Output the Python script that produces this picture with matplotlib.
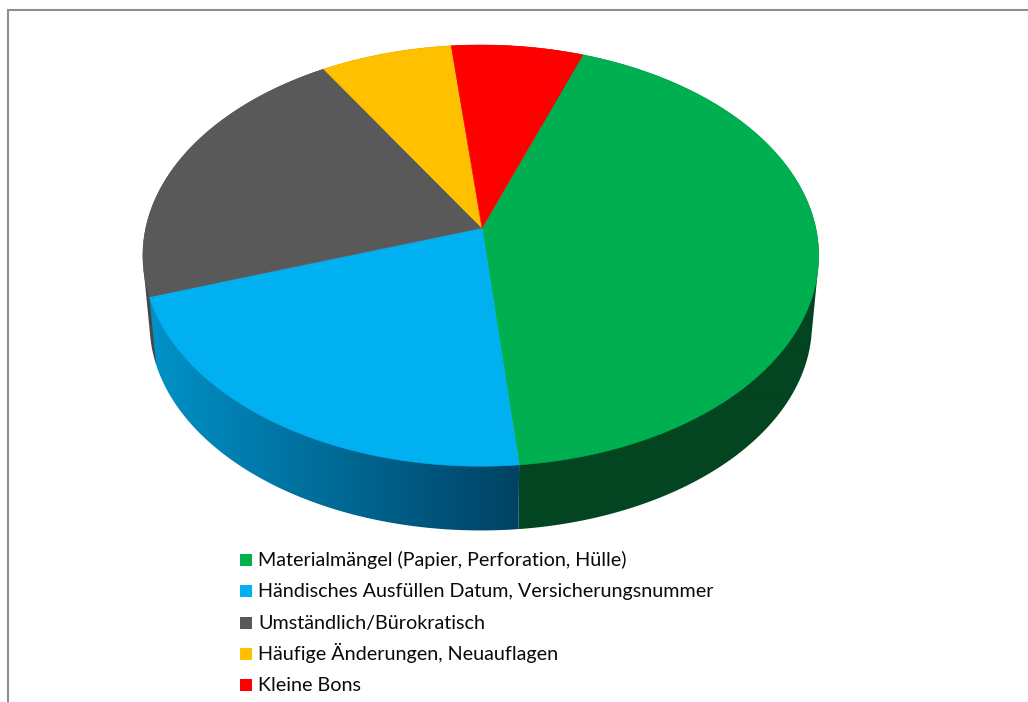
import numpy as np
import matplotlib
matplotlib.use("Agg")
import matplotlib.pyplot as plt
from matplotlib.patches import Polygon, Rectangle

categories = ["Materialmängel (Papier, Perforation, Hülle)",
              "Händisches Ausfüllen Datum, Versicherungsnummer",
              "Umständlich/Bürokratisch",
              "Häufige Änderungen, Neuauflagen",
              "Kleine Bons"]
values = [12, 6, 6, 2, 2]
colors = ["#00B050", "#00B0F0", "#595959", "#FFC000", "#FF0000"]
start_angle = 20.0

# perspective of the tilted disc, in pixels
APEX_X, CX, CY, F, G, K = 482.0, 480.8, 228.0, 335.0, 207.0, 0.131
DEPTH, SHRINK = 69.0, 0.98


def project(theta_deg, dy=0.0, scale=1.0):
    t = np.radians(theta_deg)
    x, y = np.sin(t), np.cos(t)
    w = 1 + K * y
    return CX + scale * F * x / w, CY + dy - scale * G * y / w


def convex_hull(points):
    pts = sorted(set(map(tuple, points)))

    def half(seq):
        out = []
        for p in seq:
            while len(out) >= 2 and ((out[-1][0] - out[-2][0]) * (p[1] - out[-2][1])
                                     - (out[-1][1] - out[-2][1]) * (p[0] - out[-2][0])) <= 0:
                out.pop()
            out.append(p)
        return out[:-1]

    return np.array(half(pts) + half(pts[::-1]))


def side_strip(i):
    xpos = np.arange(1028) + 0.5
    f = np.clip((xpos - 150) / 370, 0, 1)
    strip = np.zeros((1, 1028, 3))
    if i == 1:
        strip[0, :, 1] = (146 - 80 * f) / 255
        strip[0, :, 2] = (200 - 100 * f) / 255
    elif i == 0:
        strip[0, :] = (3 / 255, 69 / 255, 32 / 255)
    elif i == 2:
        strip[0, :] = (0.28, 0.28, 0.28)
    else:
        strip[0, :] = [0.45 * c for c in matplotlib.colors.to_rgb(colors[i])]
    return strip


fig = plt.figure(figsize=(10.28, 7.02), dpi=100)
ax = fig.add_axes([0, 0, 1, 1])
ax.axis("off")

ax.plot([8.3, 8.3, 1028], [702, 9.5, 9.5], color="#8e8e8e", lw=1.5, solid_joinstyle="miter")

shares = np.array(values, dtype=float) / sum(values) * 360
edges = start_angle + np.concatenate([[0], np.cumsum(shares)])

# side wall: back slices first, blue last so that it sits in front of the grey one
for i in [2, 3, 4, 0, 1]:
    th = np.linspace(edges[i], edges[i + 1], 300)
    xt, yt = project(th)
    xb, yb = project(th, dy=DEPTH, scale=SHRINK)
    pts = convex_hull(np.column_stack([np.r_[xt, xb], np.r_[yt, yb]]))
    clip = Polygon(pts, closed=True, transform=ax.transData, facecolor="none", edgecolor="none")
    ax.add_patch(clip)
    im = ax.imshow(side_strip(i), extent=(0, 1028, 702, 0), aspect="auto", interpolation="bilinear")
    im.set_clip_path(clip)

for i in range(len(values)):
    th = np.linspace(edges[i], edges[i + 1], 200)
    xs, ys = project(th)
    pts = np.column_stack([np.r_[APEX_X, xs], np.r_[CY, ys]])
    ax.add_patch(Polygon(pts, closed=True, facecolor=colors[i], edgecolor=colors[i], lw=0.4))

ax.set_xlim(0, 1028)
ax.set_ylim(702, 0)

fs = 14.2
for i, (label, c) in enumerate(zip(categories, colors)):
    top = 554 + 31.25 * i
    ax.add_patch(Rectangle((240, top), 12, 12, facecolor=c, edgecolor="none"))
    ax.text(258, top + 12, label, family="Lato", fontsize=fs, color="#0a0a0a", va="baseline", ha="left")

fig.savefig("out.png", dpi=100)
